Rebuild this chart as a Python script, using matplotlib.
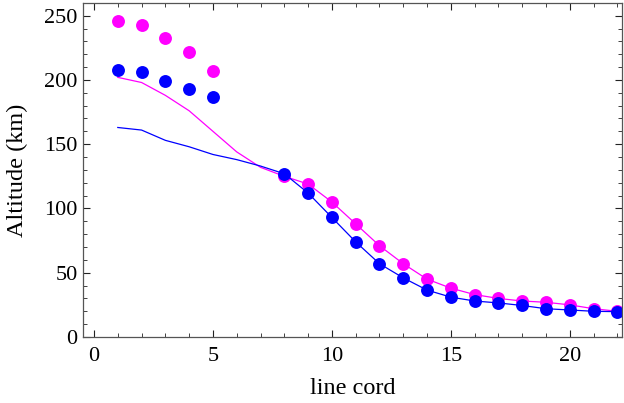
import matplotlib.pyplot as plt
import numpy as np
from matplotlib.ticker import MultipleLocator

plt.rcParams['font.family'] = ['Liberation Serif', 'DejaVu Serif']

# dots measured on line cords 1-5 (no connecting line)
x_top = [1, 2, 3, 4, 5]
mag_top = [246, 243, 233, 222, 207]
blue_top = [208, 206, 199, 193, 187]

# model curves over line cords 1-8
x_model = [1, 2, 3, 4, 5, 6, 7, 8]
mag_model = [202, 198, 188, 176, 160, 144, 132, 125]
blue_model = [163, 161, 153, 148, 142, 138, 133, 127]

# dots plus lines for line cords 8-22
x_low = list(range(8, 23))
mag_low = [125, 119, 105, 88, 71, 57, 45, 38, 33, 30, 28, 27, 25, 22, 20]
blue_low = [127, 112, 93, 74, 57, 46, 36.5, 31, 28, 26.5, 24.5, 22, 21, 20, 19.7]

magenta = '#ff00ff'
blue = '#0000ff'

fig = plt.figure(figsize=(6.24, 4.03), dpi=100)
ax = fig.add_axes([0.1335, 0.1638, 0.8635, 0.8292])

ax.plot(x_model, mag_model, color=magenta, lw=0.9)
ax.plot(x_model, blue_model, color=blue, lw=0.9)
ax.plot(x_low, mag_low, color=magenta, lw=0.9, marker='o', ms=9.3, mec='none')
ax.plot(x_low, blue_low, color=blue, lw=0.9, marker='o', ms=9.3, mec='none')
ax.plot(x_top, mag_top, ls='none', color=magenta, marker='o', ms=9.3, mec='none')
ax.plot(x_top, blue_top, ls='none', color=blue, marker='o', ms=9.3, mec='none')

ax.set_xlim(-0.45, 22.2)
ax.set_ylim(0, 260)
ax.xaxis.set_major_locator(MultipleLocator(5))
ax.xaxis.set_minor_locator(MultipleLocator(1))
ax.yaxis.set_major_locator(MultipleLocator(50))
ax.yaxis.set_minor_locator(MultipleLocator(10))
ax.tick_params(which='both', direction='in', top=True, right=True,
               labelsize=16, color='#222222')
ax.tick_params(axis='x', pad=7)
ax.tick_params(axis='y', pad=4)
ax.tick_params(which='major', length=5, width=0.8)
ax.tick_params(which='minor', length=3, width=0.6)
for s in ax.spines.values():
    s.set_color('#555555')
    s.set_linewidth(0.9)

ax.set_xlabel('line cord', fontsize=17.5, labelpad=9)
ax.set_ylabel('Altitude (km)', fontsize=17.5, labelpad=12)

fig.savefig('out.png', dpi=100)
